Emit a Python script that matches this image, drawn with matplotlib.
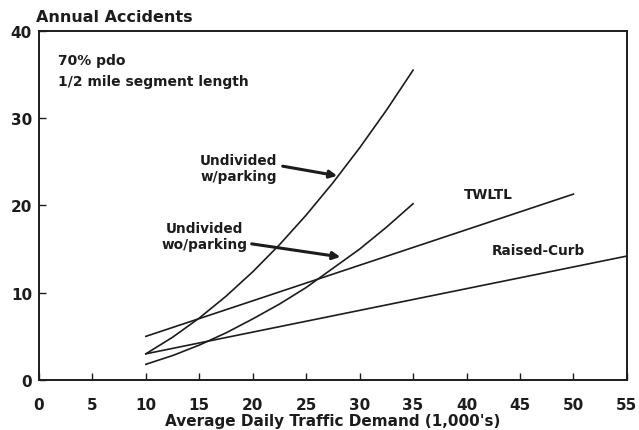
import matplotlib.pyplot as plt

# values
x_park = [10, 12.5, 15, 17.5, 20, 22.5, 25, 27.5, 30, 32.5, 35]
y_park = [3.0, 4.9, 7.1, 9.6, 12.4, 15.5, 18.9, 22.6, 26.6, 30.9, 35.5]
x_nopark = [10, 12.5, 15, 17.5, 20, 22.5, 25, 27.5, 30, 32.5, 35]
y_nopark = [1.8, 2.8, 4.0, 5.4, 7.0, 8.7, 10.6, 12.8, 15.0, 17.5, 20.2]
x_twltl = [10, 50]
y_twltl = [5.0, 21.3]
x_curb = [10, 55]
y_curb = [3.0, 14.2]

xticks = list(range(0, 60, 5))
yticks = [0, 10, 20, 30, 40]

plt.rcParams['font.family'] = ['DejaVu Sans']
ink = '#1c1c1c'


def main():
    fig = plt.figure(figsize=(6.39, 4.31), dpi=100)
    ax = fig.add_axes([0.061, 0.116, 0.92, 0.81])

    for xs, ys in [(x_park, y_park), (x_nopark, y_nopark),
                   (x_twltl, y_twltl), (x_curb, y_curb)]:
        ax.plot(xs, ys, color=ink, lw=1.2)

    ax.set_xlim(0, 55)
    ax.set_ylim(0, 40)
    ax.set_xticks(xticks)
    ax.set_yticks(yticks)
    ax.tick_params(direction='in', length=5, width=1, colors=ink,
                   labelsize=11)
    ax.tick_params(axis='x', pad=12)
    ax.tick_params(axis='y', pad=5)
    for lab in ax.get_xticklabels() + ax.get_yticklabels():
        lab.set_fontweight('bold')
    for s in ax.spines.values():
        s.set_linewidth(1.4)
        s.set_color(ink)

    fig.text(0.056, 0.959, 'Annual Accidents', fontsize=11.5,
             fontweight='bold', color=ink, va='center')
    ax.set_xlabel("Average Daily Traffic Demand (1,000's)", fontsize=11,
                  fontweight='bold', color=ink, labelpad=1)

    ax.text(1.8, 36.7, '70% pdo', fontsize=10, fontweight='bold', color=ink,
            va='center')
    ax.text(1.8, 34.3, '1/2 mile segment length', fontsize=10,
            fontweight='bold', color=ink, va='center')

    arrow = dict(arrowstyle='-|>', lw=2.2, color=ink, mutation_scale=11,
                 shrinkA=0, shrinkB=0)
    ax.text(18.7, 24.3, 'Undivided\nw/parking', ha='center', va='center',
            fontsize=9.8, fontweight='bold', color=ink, linespacing=1.15)
    ax.annotate('', xy=(27.9, 23.4), xytext=(22.8, 24.5), arrowprops=arrow)
    ax.text(15.5, 16.5, 'Undivided\nwo/parking', ha='center', va='center',
            fontsize=9.8, fontweight='bold', color=ink, linespacing=1.15)
    ax.annotate('', xy=(28.2, 14.1), xytext=(19.9, 15.6), arrowprops=arrow)
    ax.text(42, 21.3, 'TWLTL', fontsize=9.8, fontweight='bold', color=ink,
            ha='center', va='center')
    ax.text(46.7, 14.9, 'Raised-Curb', fontsize=9.8, fontweight='bold',
            color=ink, ha='center', va='center')

    fig.savefig('out.png', dpi=100)


if __name__ == "__main__":
    main()
